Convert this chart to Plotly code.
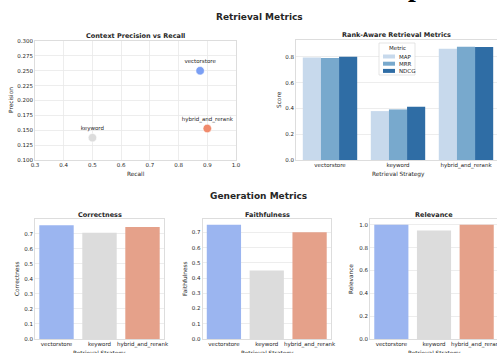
import plotly.graph_objects as go

W, H = 497, 353

strategies = ["vectorstore", "keyword", "hybrid_and_rerank"]
recall = [0.875, 0.5, 0.9]
precision = [0.25, 0.1375, 0.153]
point_colors = ["#7b9ff4", "#dcdcdc", "#f08a6c"]

metric_names = ["MAP", "MRR", "NDCG"]
map_scores = [0.795, 0.379, 0.862]
mrr_scores = [0.79, 0.392, 0.877]
ndcg_scores = [0.80, 0.413, 0.875]
metric_colors = ["#c7d9ec", "#78a9cd", "#2f6da5"]

correctness = [0.757, 0.707, 0.744]
faithfulness = [0.75, 0.45, 0.70]
relevance = [1.0, 0.95, 1.0]
bar_colors = ["#9bb5f0", "#dcdcdc", "#e5a18a"]

FONT = "DejaVu Sans"
TXT = "#262626"


def px_x(p):
    return p / W


def px_y(p):
    return 1 - p / H


fig = go.Figure()

# Scatter: Context Precision vs Recall
fig.add_trace(go.Scatter(
    x=recall, y=precision, mode="markers+text", text=strategies,
    textposition="top center", textfont=dict(size=5.5, color=TXT, family=FONT),
    marker=dict(size=8.5, color=point_colors, line=dict(color="white", width=0.6)),
    xaxis="x", yaxis="y", showlegend=False, cliponaxis=False))

# Grouped bars
for name, vals, col in zip(metric_names, [map_scores, mrr_scores, ndcg_scores], metric_colors):
    fig.add_trace(go.Bar(x=strategies, y=vals, name=name, marker=dict(color=col, line=dict(width=0)),
                         xaxis="x2", yaxis="y2", showlegend=False))

for i, vals in enumerate([correctness, faithfulness, relevance]):
    fig.add_trace(go.Bar(x=strategies, y=vals, marker=dict(color=bar_colors, line=dict(width=0)),
                         xaxis="x%d" % (i + 3), yaxis="y%d" % (i + 3), showlegend=False))

base = dict(showline=True, mirror=True, linecolor="#d4d4d4", linewidth=0.8,
            gridcolor="#e8e8e8", gridwidth=0.8, zeroline=False, ticks="",
            automargin=False,
            tickfont=dict(size=5.5, color=TXT, family=FONT))

top_dom = [px_y(160), px_y(41)]
bot_dom = [px_y(339), px_y(219)]

layout = dict(
    template="none",
    width=W, height=H, margin=dict(l=0, r=0, t=0, b=0, autoexpand=False),
    paper_bgcolor="white", plot_bgcolor="white",
    font=dict(family=FONT, color=TXT),
    barmode="group", bargap=0.2, bargroupgap=0, showlegend=False,
    xaxis=dict(base, domain=[px_x(35), px_x(236)], range=[0.3, 1.0], dtick=0.1,
               tickformat=".1f", showgrid=True, anchor="y"),
    yaxis=dict(base, domain=top_dom, range=[0.1, 0.3], dtick=0.025,
               tickformat=".3f", anchor="x"),
    xaxis2=dict(base, domain=[px_x(296), 1.0], range=[-0.5, 2.456], showgrid=False, anchor="y2"),
    yaxis2=dict(base, domain=[px_y(160), px_y(40)], range=[0, 0.93], dtick=0.2,
                tickformat=".1f", anchor="x2"),
    xaxis3=dict(base, domain=[px_x(35), px_x(164)], range=[-0.5, 2.5], showgrid=False, anchor="y3"),
    yaxis3=dict(base, domain=bot_dom, range=[0, 0.798], dtick=0.1, tickformat=".1f", anchor="x3"),
    xaxis4=dict(base, domain=[px_x(202.5), px_x(331)], range=[-0.5, 2.5], showgrid=False, anchor="y4"),
    yaxis4=dict(base, domain=bot_dom, range=[0, 0.7875], dtick=0.1, tickformat=".1f", anchor="x4"),
    xaxis5=dict(base, domain=[px_x(370), 1.0], range=[-0.5, 2.476], showgrid=False, anchor="y5"),
    yaxis5=dict(base, domain=bot_dom, range=[0, 1.05], dtick=0.2, tickformat=".1f", anchor="x5"),
)
fig.update_layout(**layout)

annots = []
shapes = []


def add_text(text, x, y, size, bold=False, angle=0, family=FONT, color=TXT, xanchor="center"):
    annots.append(dict(text=("<b>%s</b>" % text) if bold else text, x=px_x(x), y=px_y(y),
                       xref="paper", yref="paper", showarrow=False, xanchor=xanchor,
                       yanchor="middle", textangle=angle, borderpad=0,
                       font=dict(size=size, family=family, color=color)))


add_text("Retrieval Metrics", 259, 17, 9, bold=True)
add_text("Generation Metrics", 258, 196, 9, bold=True)
add_text("Context Precision vs Recall", 135.5, 36, 6.5, bold=True)
add_text("Rank-Aware Retrieval Metrics", 396.5, 35, 6.5, bold=True)
add_text("Correctness", 99.5, 215, 6.5, bold=True)
add_text("Faithfulness", 267, 215, 6.5, bold=True)
add_text("Relevance", 434, 215, 6.5, bold=True)
add_text("Recall", 135.5, 174, 5.8)
add_text("Retrieval Strategy", 398, 174, 5.8)
add_text("Precision", 11, 100, 5.8, angle=-90)
add_text("Score", 279, 100, 5.8, angle=-90)
add_text("Correctness", 17, 279, 5.8, angle=-90)
add_text("Faithfulness", 185, 279, 5.8, angle=-90)
add_text("Relevance", 351, 279, 5.8, angle=-90)
for cx in [99.5, 267, 434]:
    add_text("Retrieval Strategy", cx, 353.5, 5.8)

# legend for rank-aware chart
lx0, ly0, lx1, ly1 = 379, 43, 415, 75
shapes.append(dict(type="rect", xref="paper", yref="paper", x0=px_x(lx0), x1=px_x(lx1),
                   y0=px_y(ly1), y1=px_y(ly0), line=dict(color="#d4d4d4", width=0.6),
                   fillcolor="rgba(255,255,255,0.85)", layer="above"))
add_text("Metric", 397, 48, 5.5)
for k, (name, col) in enumerate(zip(metric_names, metric_colors)):
    cy = 56.5 + k * 7.2
    shapes.append(dict(type="rect", xref="paper", yref="paper", x0=px_x(383), x1=px_x(395),
                       y0=px_y(cy + 2), y1=px_y(cy - 2), line=dict(width=0), fillcolor=col,
                       layer="above"))
    add_text(name, 398, cy, 5.5, xanchor="left")

# cropped glyph at the very top
annots.append(dict(text="<b>p</b>", x=px_x(416), y=px_y(3.5), xref="paper", yref="paper",
                   showarrow=False, xanchor="center", yanchor="bottom",
                   font=dict(size=28, family="Liberation Serif", color="black")))

fig.update_layout(annotations=annots, shapes=shapes)
fig.write_html("out.html", config={"displayModeBar": False, "staticPlot": True},
               post_script="document.body.style.margin='0';document.body.style.padding='0';")
